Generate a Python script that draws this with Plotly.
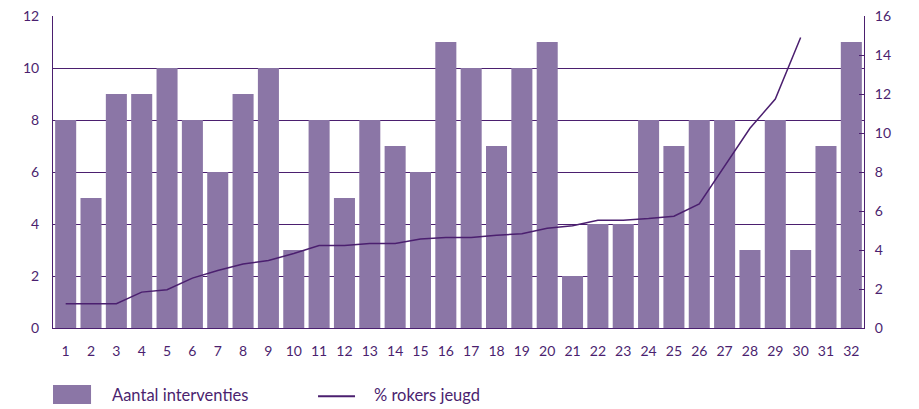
import plotly.graph_objects as go

categories = list(range(1, 33))
aantal_interventies = [8, 5, 9, 9, 10, 8, 6, 9, 10, 3, 8, 5, 8, 7, 6, 11,
                       10, 7, 10, 11, 2, 4, 4, 8, 7, 8, 8, 3, 8, 3, 7, 11]
line_categories = list(range(1, 31))
pct_rokers_jeugd = [1.25, 1.25, 1.25, 1.84, 1.96, 2.56, 2.95, 3.28, 3.46, 3.82,
                    4.23, 4.23, 4.33, 4.33, 4.56, 4.64, 4.64, 4.76, 4.83, 5.12,
                    5.24, 5.53, 5.53, 5.61, 5.73, 6.36, 8.28, 10.24, 11.74, 14.9]
left_ticks = [0, 2, 4, 6, 8, 10, 12]
right_ticks = [0, 2, 4, 6, 8, 10, 12, 14, 16]
series_names = ["Aantal interventies", "% rokers jeugd"]

BAR = "#8b76a6"
DARK = "#4b1f6f"
FONT = "Lato, Open Sans, sans-serif"

fig = go.Figure()
fig.add_trace(go.Bar(x=categories, y=aantal_interventies, name=series_names[0],
                     marker=dict(color=BAR, line=dict(width=0)), showlegend=False))
fig.add_trace(go.Scatter(x=line_categories, y=pct_rokers_jeugd, name=series_names[1],
                         yaxis="y2", mode="lines", line=dict(color=DARK, width=1.5),
                         showlegend=False))

# custom legend (drawn in paper coordinates below the plot)
fig.add_shape(type="rect", xref="paper", yref="paper", x0=0.0, x1=0.0469,
              y0=-0.2436, y1=-0.1827, fillcolor=BAR, line=dict(width=0))
fig.add_shape(type="line", xref="paper", yref="paper", x0=0.3268, x1=0.3724,
              y0=-0.219, y1=-0.219, line=dict(color=DARK, width=2))
fig.add_annotation(xref="paper", yref="paper", x=0.0703, y=-0.2147, text=series_names[0],
                   showarrow=False, xanchor="left", yanchor="middle",
                   font=dict(size=16.5, color=DARK, family=FONT))
fig.add_annotation(xref="paper", yref="paper", x=0.3933, y=-0.2147, text=series_names[1],
                   showarrow=False, xanchor="left", yanchor="middle",
                   font=dict(size=16.5, color=DARK, family=FONT))

fig.update_layout(
    width=919, height=409,
    margin=dict(l=53, r=55, t=16, b=81),
    plot_bgcolor="white", paper_bgcolor="white",
    bargap=0.17,
    font=dict(family=FONT, color=DARK, size=14),
    showlegend=False,
    xaxis=dict(range=[0.5, 32.5], tickvals=categories, ticktext=[str(c) for c in categories],
               showgrid=False, showline=True, linecolor=DARK, linewidth=1,
               ticks="outside", ticklen=10, tickcolor="rgba(0,0,0,0)",
               tickfont=dict(size=14, color=DARK), zeroline=False, automargin=False),
    yaxis=dict(range=[0, 12], tickvals=left_ticks, showgrid=True, gridcolor=DARK,
               gridwidth=1, showline=True, linecolor=DARK, linewidth=1,
               ticks="outside", ticklen=10, tickcolor="rgba(0,0,0,0)",
               tickfont=dict(size=14, color=DARK), zeroline=False, automargin=False),
    yaxis2=dict(range=[0, 16], tickvals=right_ticks, overlaying="y", side="right",
                showgrid=False, showline=True, linecolor=DARK, linewidth=1,
                ticks="inside", ticklen=5, tickcolor=DARK, tickwidth=1,
                ticklabelstandoff=7,
                tickfont=dict(size=14, color=DARK), zeroline=False, automargin=False),
)

fig.write_html("out.html", config={"displayModeBar": False},
               post_script="document.body.style.margin='0';document.body.style.overflow='hidden';")
